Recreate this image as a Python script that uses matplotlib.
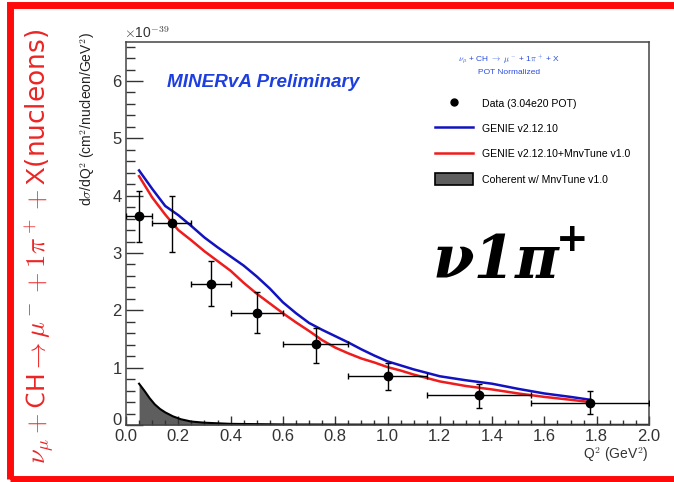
import matplotlib.pyplot as plt
from matplotlib.lines import Line2D
from matplotlib.patches import Patch, Rectangle
from matplotlib.ticker import MultipleLocator
from matplotlib.transforms import ScaledTranslation

plt.rcParams['font.family'] = ['Liberation Sans', 'DejaVu Sans']
plt.rcParams['mathtext.fontset'] = 'cm'

# measured cross section (units of 1e-39), bin centres and bin edges
q2 = [0.05, 0.175, 0.325, 0.5, 0.725, 1.0, 1.35, 1.775]
q2_lo = [0.0, 0.1, 0.25, 0.4, 0.6, 0.85, 1.15, 1.55]
q2_hi = [0.1, 0.25, 0.4, 0.6, 0.85, 1.15, 1.55, 2.0]
xsec = [3.65, 3.52, 2.46, 1.95, 1.41, 0.86, 0.52, 0.39]
xsec_up = [4.08, 4.0, 2.86, 2.32, 1.69, 1.09, 0.72, 0.59]
xsec_dn = [3.2, 3.02, 2.07, 1.61, 1.09, 0.61, 0.29, 0.2]

# GENIE predictions
mc_q2 = [0.05, 0.10, 0.15, 0.20, 0.25, 0.30, 0.35, 0.40, 0.45, 0.50, 0.55, 0.60,
         0.65, 0.70, 0.75, 0.80, 0.85, 0.90, 0.95, 1.0, 1.05, 1.1, 1.2, 1.3,
         1.4, 1.5, 1.6, 1.7, 1.775]
genie = [4.44, 4.12, 3.82, 3.66, 3.47, 3.27, 3.10, 2.94, 2.78, 2.59, 2.38, 2.14,
         1.95, 1.78, 1.66, 1.55, 1.44, 1.32, 1.21, 1.11, 1.04, 0.97, 0.85, 0.78,
         0.72, 0.63, 0.55, 0.49, 0.44]
genie_tune = [4.34, 3.97, 3.67, 3.40, 3.22, 3.03, 2.86, 2.69, 2.48, 2.29, 2.12, 1.95,
              1.79, 1.64, 1.48, 1.35, 1.25, 1.16, 1.09, 1.01, 0.95, 0.88, 0.76, 0.68,
              0.62, 0.55, 0.49, 0.44, 0.40]

# coherent component
coh_q2 = [0.05, 0.07, 0.09, 0.11, 0.13, 0.15, 0.18, 0.21, 0.25, 0.3, 0.35, 0.4,
          0.5, 0.6, 0.8, 1.0, 1.5, 2.0]
coh = [0.72, 0.6, 0.47, 0.36, 0.28, 0.22, 0.15, 0.1, 0.06, 0.04, 0.03, 0.02,
       0.015, 0.01, 0.008, 0.006, 0.004, 0.003]

fig = plt.figure(figsize=(6.74, 4.82), dpi=100)
ax = fig.add_axes([126 / 674, 1 - 425 / 482, 523 / 674, 383 / 482])

ax.fill_between(coh_q2, 0, coh, color='#5e5e5e', lw=0)
ax.plot(coh_q2, coh, color='black', lw=1.5)
ax.plot(mc_q2, genie, color='#1212c0', lw=1.8)
ax.plot(mc_q2, genie_tune, color='#ee1c1c', lw=1.8)

xerr = [[c - lo for c, lo in zip(q2, q2_lo)], [hi - c for c, hi in zip(q2, q2_hi)]]
yerr = [[c - d for c, d in zip(xsec, xsec_dn)], [u - c for c, u in zip(xsec, xsec_up)]]
ax.errorbar(q2, xsec, xerr=xerr, yerr=yerr, fmt='o', color='black', ms=6,
            elinewidth=1, capsize=2.5, capthick=1, zorder=5)

ax.set_xlim(0, 2.0)
ax.set_ylim(0, 6.68)
ax.xaxis.set_major_locator(MultipleLocator(0.2))
ax.xaxis.set_minor_locator(MultipleLocator(0.05))
ax.yaxis.set_minor_locator(MultipleLocator(0.2))
ax.set_yticks([0, 1, 2, 3, 4, 5, 6], ['0', '1', '2', '3', '4', '5', '6'])
ax.tick_params(axis='x', which='major', direction='in', length=6.5, width=1,
               labelsize=12, pad=3, colors='#333333', top=False)
ax.tick_params(axis='x', which='minor', direction='in', length=3.5, width=1,
               colors='#333333', top=False)
ax.tick_params(axis='y', which='major', direction='in', length=12.5, width=1,
               labelsize=12, pad=3, colors='#333333', right=False)
ax.tick_params(axis='y', which='minor', direction='in', length=6.5, width=1,
               colors='#333333', right=False)
# lift the "0" on the y axis a little so it clears the x labels
zero_lbl = ax.get_yticklabels()[0]
zero_lbl.set_transform(zero_lbl.get_transform() + ScaledTranslation(0, 4 / 72, fig.dpi_scale_trans))
for s in ax.spines.values():
    s.set_color('#444444')
    s.set_linewidth(1.1)

fig.text(649 / 674, 1 - 455 / 482, r'Q$^2$ (GeV$^2$)', ha='right', va='center',
         fontsize=10, color='#333333')
fig.text(124 / 674, 1 - 33 / 482, r'$\times$10$^{-39}$', ha='left', va='center',
         fontsize=10, color='#333333')
fig.text(88 / 674, 1 - 32 / 482, r'd$\sigma$/dQ$^2$ (cm$^2$/nucleon/GeV$^2$)',
         rotation=90, ha='center', va='top', fontsize=10, color='#222222')

# reaction label on the left
fig.text(40 / 674, 1 - 246 / 482,
         r'$\nu_\mu + \mathsf{CH} \rightarrow \mu^- + 1\pi^+ + \mathsf{X}$(nucleons)',
         rotation=90, ha='center', va='center', fontsize=19, color='#ec2424',
         family='DejaVu Sans')

ax.text(0.079, 0.895, 'MINERvA Preliminary', transform=ax.transAxes,
        fontsize=13.6, fontweight='bold', style='italic', color='#1e3fe0',
        ha='left', va='center')

fig.text(509 / 674, 1 - 59 / 482, r'$\nu_\mu$ + CH $\rightarrow$ $\mu^-$ + 1$\pi^+$ + X',
         ha='center', va='center', fontsize=6, color='#2a4de0')
fig.text(509 / 674, 1 - 72 / 482, 'POT Normalized', ha='center', va='center',
         fontsize=6, color='#2a4de0')

handles = [
    Line2D([], [], ls='none', marker='o', color='black', ms=5),
    Line2D([], [], color='#1212c0', lw=1.8),
    Line2D([], [], color='#ee1c1c', lw=1.8),
    Patch(facecolor='#5e5e5e', edgecolor='black', lw=1.2),
]
labels = ['Data (3.04e20 POT)', 'GENIE v2.12.10', 'GENIE v2.12.10+MnvTune v1.0',
          'Coherent w/ MnvTune v1.0']
fig.legend(handles, labels, loc='upper left', bbox_to_anchor=(430 / 674, 1 - 92 / 482),
           frameon=False, fontsize=7.6, borderpad=0, handlelength=3.6,
           handleheight=1.45, handletextpad=0.8, labelspacing=1.2)

# big channel tag, the "+" sits just after the end of the main text
tag = fig.text(433 / 674, 1 - 278 / 482, 'ν1π', ha='left', va='baseline', fontsize=43,
               fontweight='bold', style='italic', family='DejaVu Serif', color='black')
tag_box = tag.get_window_extent(fig.canvas.get_renderer())
fig.text((tag_box.x1 + 12) / 674, 1 - 240 / 482, '+', ha='center', va='center',
         fontsize=28, fontweight='bold', family='DejaVu Sans', color='black')

# red frame around the panel
fig.patches.append(Rectangle((9.5 / 674, 3.5 / 482), 700 / 674, 474 / 482,
                             transform=fig.transFigure, fill=False,
                             edgecolor='#ff0a0a', lw=5))

fig.savefig('out.png', dpi=100)
